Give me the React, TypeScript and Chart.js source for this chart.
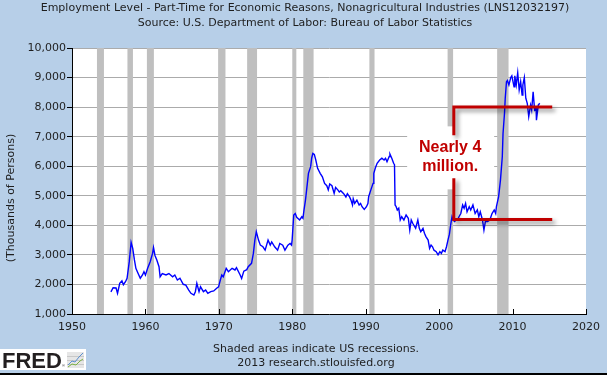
import React, { useEffect, useRef } from "react";
import { Chart, registerables } from "chart.js";

Chart.register(...registerables);

// ---------- text ----------
const TITLE_LINES = [
  "Employment Level - Part-Time for Economic Reasons, Nonagricultural Industries (LNS12032197)",
  "Source: U.S. Department of Labor: Bureau of Labor Statistics",
];
const Y_AXIS_TITLE = "(Thousands of Persons)";
const FOOTNOTES = ["Shaded areas indicate US recessions.", "2013 research.stlouisfed.org"];
const NOTE_LINES = ["Nearly 4", "million."];

// ---------- axes ----------
const X_TICKS = [1950, 1960, 1970, 1980, 1990, 2000, 2010, 2020];
const Y_TICKS = [1000, 2000, 3000, 4000, 5000, 6000, 7000, 8000, 9000, 10000];

// ---------- recessions (start / end, decimal years) ----------
const RECESSION_STARTS = [1953.4, 1957.55, 1960.2, 1969.9, 1973.85, 1980.0, 1981.5, 1990.5, 2001.15, 2007.9];
const RECESSION_ENDS = [1954.35, 1958.3, 1961.15, 1970.9, 1975.2, 1980.55, 1982.9, 1991.2, 2001.9, 2009.45];

// ---------- annotation (data units) ----------
const BRACKET_X = [2002.0, 2015.4];
const BRACKET_Y = [4200, 8000];
const NOTE_AT = [2001.5, 6300];

// ---------- series ----------
const DATES = [
  1955.3, 1955.6, 1956.0, 1956.2, 1956.5, 1956.8, 1957.0, 1957.3, 1957.5, 1957.8,
  1958.05, 1958.27, 1958.5, 1958.7, 1958.9, 1959.3, 1959.6, 1959.8, 1960.0, 1960.3,
  1960.65, 1960.97, 1961.1, 1961.3, 1961.55, 1961.85, 1962.0, 1962.3, 1962.8, 1963.2,
  1963.7, 1964.0, 1964.35, 1964.7, 1965.15, 1965.5, 1965.9, 1966.2, 1966.6, 1966.8,
  1967.0, 1967.3, 1967.5, 1967.9, 1968.2, 1968.5, 1968.9, 1969.3, 1969.7, 1969.96,
  1970.2, 1970.4, 1970.6, 1971.0, 1971.3, 1971.8, 1972.2, 1972.4, 1972.9, 1973.1,
  1973.4, 1973.8, 1974.0, 1974.45, 1974.7, 1974.9, 1975.1, 1975.4, 1975.65, 1976.0,
  1976.3, 1976.7, 1977.0, 1977.2, 1977.6, 1978.0, 1978.3, 1978.7, 1979.0, 1979.4,
  1979.7, 1979.9, 1979.98, 1980.2, 1980.4, 1980.6, 1981.0, 1981.3, 1981.45, 1981.6,
  1981.8, 1981.9, 1982.05, 1982.2, 1982.5, 1982.64, 1982.8, 1983.0, 1983.2, 1983.45,
  1983.8, 1984.1, 1984.4, 1984.7, 1984.9, 1985.1, 1985.4, 1985.7, 1985.9, 1986.2,
  1986.4, 1986.6, 1987.0, 1987.3, 1987.5, 1987.8, 1988.0, 1988.2, 1988.3, 1988.5,
  1988.8, 1989.1, 1989.3, 1989.5, 1989.8, 1990.1, 1990.3, 1990.4, 1990.7, 1991.0,
  1991.1, 1991.3, 1991.55, 1991.9, 1992.2, 1992.5, 1992.7, 1992.9, 1993.2, 1993.3,
  1993.55, 1993.8, 1993.92, 1994.0, 1994.15, 1994.3, 1994.5, 1994.7, 1994.9, 1995.2,
  1995.5, 1995.8, 1996.0, 1996.2, 1996.4, 1996.8, 1997.1, 1997.3, 1997.5, 1997.8,
  1998.0, 1998.2, 1998.5, 1998.7, 1998.9, 1999.1, 1999.3, 1999.6, 1999.85, 2000.1,
  2000.3, 2000.5, 2000.8, 2001.0, 2001.2, 2001.4, 2001.6, 2001.75, 2001.9, 2002.1,
  2002.3, 2002.5, 2002.7, 2002.95, 2003.2, 2003.4, 2003.6, 2003.8, 2004.1, 2004.3,
  2004.6, 2004.9, 2005.2, 2005.4, 2005.6, 2005.9, 2006.1, 2006.3, 2006.6, 2006.9,
  2007.2, 2007.5, 2007.7, 2007.8, 2008.1, 2008.35, 2008.6, 2008.7, 2008.9, 2009.0,
  2009.17, 2009.3, 2009.5, 2009.75, 2009.9, 2010.2, 2010.3, 2010.5, 2010.7, 2010.9,
  2011.1, 2011.3, 2011.4, 2011.6, 2011.8, 2012.0, 2012.2, 2012.45, 2012.6, 2012.8,
  2013.0, 2013.2, 2013.25, 2013.5, 2013.7,
];
const PART_TIME = [
  1750, 1890, 1880, 1700, 2040, 2120, 1990, 2100, 2210, 2770,
  3425, 3220, 2830, 2545, 2430, 2210, 2320, 2430, 2320, 2545,
  2770, 3050, 3245, 2980, 2830, 2600, 2260, 2370, 2320, 2370,
  2260, 2320, 2150, 2210, 2005, 1980, 1810, 1700, 1640, 1755,
  2040, 1755, 1920, 1755, 1810, 1700, 1755, 1780, 1870, 1920,
  2150, 2320, 2260, 2545, 2430, 2545, 2490, 2570, 2320, 2200,
  2450, 2500, 2600, 2715, 3050, 3500, 3785, 3500, 3330, 3275,
  3160, 3500, 3330, 3440, 3275, 3160, 3385, 3330, 3160, 3330,
  3385, 3330, 3500, 4350, 4400, 4270, 4180, 4290, 4240, 4520,
  4860, 5080, 5420, 5760, 5985, 6270, 6435, 6400, 6210, 5930,
  5760, 5640, 5420, 5340, 5200, 5400, 5340, 5080, 5280, 5200,
  5130, 5170, 5070, 4960, 5070, 4960, 4850, 4690, 4900, 4740,
  4850, 4690, 4740, 4630, 4540, 4630, 4740, 4970, 5200, 5420,
  5760, 5930, 6100, 6210, 6270, 6210, 6270, 6150, 6330, 6410,
  6270, 6100, 6050, 4690, 4630, 4520, 4580, 4180, 4290, 4180,
  4350, 4240, 3840, 4180, 4070, 3900, 4180, 3900, 3785, 3900,
  3730, 3620, 3500, 3220, 3330, 3275, 3160, 3110, 3000, 3110,
  3050, 3160, 3110, 3275, 3500, 3700, 4070, 4290, 4180, 4130,
  4180, 4180, 4290, 4400, 4690, 4580, 4740, 4460, 4630, 4520,
  4690, 4400, 4520, 4290, 4460, 4180, 3840, 4130, 4130, 4180,
  4400, 4520, 4400, 4630, 4970, 5530, 6320, 7110, 7790, 8300,
  8860, 8900, 8750, 9000, 9060, 8690, 9060, 8750, 9160, 8580,
  8860, 8410, 8750, 9000, 8300, 8130, 7680, 8070, 7900, 8520,
  7900, 7960, 7560, 8070, 8130,
];

// ---------- style ----------
const BG = "#b7cfe8";
const FONT = "'DejaVu Sans', Verdana, sans-serif";
const TEXT = "#1e1e1e";
const RED = "#c00000";

const decorPlugin = {
  id: "fredDecor",
  beforeDraw(chart: any) {
    const { ctx, chartArea: a, width, height } = chart;
    ctx.save();
    ctx.fillStyle = BG;
    ctx.fillRect(0, 0, width, height);
    ctx.fillStyle = "#ffffff";
    ctx.fillRect(a.left, a.top, a.right - a.left, a.bottom - a.top);
    ctx.restore();
  },
  beforeDatasetsDraw(chart: any) {
    const { ctx, chartArea: a, scales } = chart;
    const x = scales.x;
    ctx.save();
    ctx.fillStyle = "#bfbfbf";
    for (let i = 0; i < RECESSION_STARTS.length; i++) {
      const x0 = x.getPixelForValue(RECESSION_STARTS[i]);
      const x1 = x.getPixelForValue(RECESSION_ENDS[i]);
      ctx.fillRect(x0, a.top, x1 - x0, a.bottom - a.top);
    }
    ctx.restore();
  },
  afterDatasetsDraw(chart: any) {
    const { ctx, chartArea: a, scales } = chart;
    const x = scales.x;
    const y = scales.y;
    ctx.save();
    // inner x ticks
    ctx.strokeStyle = "#000";
    ctx.lineWidth = 1;
    for (const t of X_TICKS) {
      const px = Math.round(x.getPixelForValue(t)) + 0.5;
      ctx.beginPath();
      ctx.moveTo(px, a.bottom);
      ctx.lineTo(px, a.bottom - 5);
      ctx.stroke();
    }
    // annotation
    const nx = x.getPixelForValue(NOTE_AT[0]);
    const ny = y.getPixelForValue(NOTE_AT[1]);
    ctx.fillStyle = "#ffffff";
    ctx.fillRect(nx - 43, ny - 31, 87, 63);

    const bx0 = x.getPixelForValue(BRACKET_X[0]);
    const bx1 = x.getPixelForValue(BRACKET_X[1]);
    const byTop = y.getPixelForValue(BRACKET_Y[1]);
    const byBot = y.getPixelForValue(BRACKET_Y[0]);
    ctx.strokeStyle = RED;
    ctx.lineWidth = 3;
    ctx.lineJoin = "miter";
    ctx.shadowColor = "rgba(0,0,0,0.45)";
    ctx.shadowBlur = 4;
    ctx.shadowOffsetX = 3;
    ctx.shadowOffsetY = 3;
    ctx.beginPath();
    ctx.moveTo(bx1, byTop);
    ctx.lineTo(bx0, byTop);
    ctx.lineTo(bx0, ny - 22);
    ctx.moveTo(bx0, ny + 21);
    ctx.lineTo(bx0, byBot);
    ctx.lineTo(bx1, byBot);
    ctx.stroke();
    ctx.shadowColor = "rgba(0,0,0,0)";
    ctx.shadowBlur = 0;
    ctx.shadowOffsetX = 0;
    ctx.shadowOffsetY = 0;

    ctx.fillStyle = RED;
    ctx.font = "bold 16px 'Liberation Sans', Arial, sans-serif";
    ctx.textAlign = "center";
    ctx.textBaseline = "middle";
    ctx.fillText(NOTE_LINES[0], nx, ny - 9.5);
    ctx.fillText(NOTE_LINES[1], nx, ny + 9.5);
    ctx.restore();
  },
  afterDraw(chart: any) {
    const { ctx, width, height } = chart;
    ctx.save();
    ctx.fillStyle = TEXT;
    ctx.font = `11px ${FONT}`;
    ctx.textAlign = "center";
    ctx.textBaseline = "alphabetic";
    ctx.fillText(TITLE_LINES[0], 305, 11);
    ctx.fillText(TITLE_LINES[1], 305, 26);
    ctx.fillText(FOOTNOTES[0], 316, 352);
    ctx.fillText(FOOTNOTES[1], 316, 366);

    ctx.save();
    ctx.translate(14, 198);
    ctx.rotate(-Math.PI / 2);
    ctx.textBaseline = "alphabetic";
    ctx.fillText(Y_AXIS_TITLE, 0, 0);
    ctx.restore();

    // FRED logo
    ctx.fillStyle = "#ffffff";
    ctx.fillRect(0, 349, 86, 21);
    ctx.fillStyle = "#231f20";
    ctx.font = "bold 22px 'Liberation Sans', Arial, sans-serif";
    ctx.textAlign = "left";
    ctx.fillText("FRED", 2, 368);
    ctx.font = "4px 'Liberation Sans', Arial, sans-serif";
    ctx.fillText("®", 62, 367);
    // small chart icon
    ctx.fillStyle = "#e6e6e6";
    ctx.fillRect(67, 352, 17, 16);
    ctx.strokeStyle = "#c8c8c8";
    ctx.lineWidth = 1;
    for (let i = 0; i < 3; i++) {
      ctx.beginPath();
      ctx.moveTo(67, 356.5 + i * 4);
      ctx.lineTo(84, 356.5 + i * 4);
      ctx.stroke();
    }
    ctx.strokeStyle = "#5a8fd0";
    ctx.beginPath();
    ctx.moveTo(68, 365);
    ctx.lineTo(72, 361);
    ctx.lineTo(75, 362);
    ctx.lineTo(79, 357);
    ctx.lineTo(83, 353);
    ctx.stroke();
    ctx.strokeStyle = "#7cb342";
    ctx.beginPath();
    ctx.moveTo(68, 367);
    ctx.lineTo(72, 364);
    ctx.lineTo(76, 365);
    ctx.lineTo(80, 361);
    ctx.lineTo(83, 359);
    ctx.stroke();

    // bottom rule
    ctx.fillStyle = "#000";
    ctx.fillRect(0, height - 2, width, 2);
    ctx.restore();
  },
};

export default function App() {
  const ref = useRef<HTMLCanvasElement | null>(null);

  useEffect(() => {
    document.body.style.margin = "0";
    const canvas = ref.current;
    if (!canvas) return;
    const chart = new Chart(canvas, {
      type: "line",
      data: {
        datasets: [
          {
            data: DATES.map((d, i) => ({ x: d, y: PART_TIME[i] })),
            borderColor: "#0000ff",
            borderWidth: 1.4,
            pointRadius: 0,
            tension: 0,
            fill: false,
          },
        ],
      },
      options: {
        responsive: false,
        animation: false,
        devicePixelRatio: 1,
        layout: { padding: { left: 0, right: 16, top: 48, bottom: 0 } },
        plugins: {
          legend: { display: false },
          tooltip: { enabled: false },
          title: { display: false },
        },
        scales: {
          x: {
            type: "linear",
            min: 1950,
            max: 2020,
            afterBuildTicks: (s: any) => {
              s.ticks = X_TICKS.map((v) => ({ value: v }));
            },
            afterFit: (s: any) => {
              s.height = 61;
            },
            grid: { display: false, drawTicks: false },
            border: { display: true, color: "#000", width: 1 },
            ticks: {
              color: TEXT,
              font: { family: FONT, size: 11 },
              padding: 7,
              maxRotation: 0,
              autoSkip: false,
              callback: (v: any) => String(v),
            },
          },
          y: {
            type: "linear",
            min: 1000,
            max: 10000,
            afterBuildTicks: (s: any) => {
              s.ticks = Y_TICKS.map((v) => ({ value: v }));
            },
            afterFit: (s: any) => {
              s.width = 72;
            },
            grid: { color: "#ababab", tickColor: "#000", tickLength: 5, lineWidth: 1 },
            border: { display: true, color: "#000", width: 1 },
            ticks: {
              color: TEXT,
              font: { family: FONT, size: 11 },
              padding: 1,
              autoSkip: false,
              callback: (v: any) => Number(v).toLocaleString("en-US"),
            },
          },
        },
      },
      plugins: [decorPlugin],
    });
    return () => chart.destroy();
  }, []);

  return (
    <div style={{ width: 607, height: 375 }}>
      <canvas ref={ref} width={607} height={375} style={{ display: "block" }} />
    </div>
  );
}
